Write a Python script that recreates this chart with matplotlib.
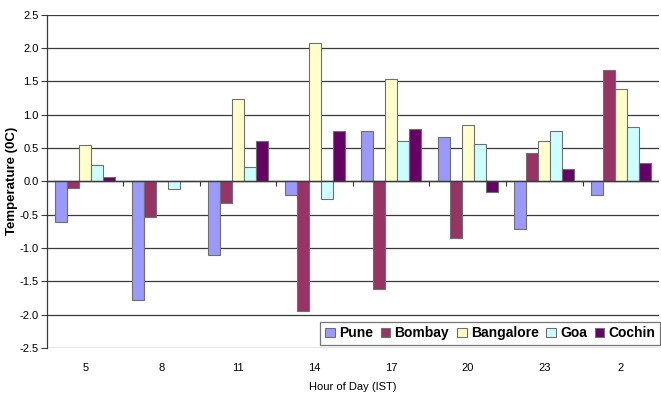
import numpy as np
import matplotlib
matplotlib.use("Agg")
import matplotlib.pyplot as plt
from matplotlib.patches import Patch

plt.rcParams["font.family"] = ["Liberation Sans", "DejaVu Sans"]

# ---- data ----
hours = ["5", "8", "11", "14", "17", "20", "23", "2"]
cities = ["Pune", "Bombay", "Bangalore", "Goa", "Cochin"]
pune      = [-0.61, -1.78, -1.10, -0.21,  0.76,  0.67, -0.72, -0.20]
bombay    = [-0.10, -0.54, -0.32, -1.95, -1.62, -0.85,  0.43,  1.67]
bangalore = [ 0.55,  0.00,  1.23,  2.08,  1.54,  0.84,  0.60,  1.38]
goa       = [ 0.25, -0.12,  0.21, -0.26,  0.61,  0.56,  0.75,  0.81]
cochin    = [ 0.06,  0.00,  0.60,  0.75,  0.79, -0.16,  0.18,  0.28]
series = [pune, bombay, bangalore, goa, cochin]
colors = ["#9999FF", "#993366", "#FFFFCC", "#CCFFFF", "#660066"]

fig = plt.figure(figsize=(6.61, 3.94), dpi=100)
ax = fig.add_axes([0.071, 0.117, 0.926, 0.846])

n = len(hours)
x = np.arange(n) + 0.5
w = 0.156
for i, (vals, c) in enumerate(zip(series, colors)):
    ax.bar(x + (i - 2) * w, vals, width=w, color=c, edgecolor="#707070",
           linewidth=0.8, label=cities[i], zorder=3)

ax.set_xlim(0, n)
ax.set_ylim(-2.5, 2.5)
ax.set_yticks(np.arange(-2.5, 2.51, 0.5))
ax.set_yticklabels([f"{v:.1f}" for v in np.arange(-2.5, 2.51, 0.5)], fontsize=8)
ax.yaxis.grid(True, color="#3a3a3a", linewidth=0.9, zorder=0)
ax.set_axisbelow(True)

# category axis crossing at zero, with ticks between categories
ax.axhline(0, color="#3a3a3a", linewidth=1, zorder=4)
ax.vlines(np.arange(1, n), -0.07, 0, color="#3a3a3a", linewidth=0.8, zorder=4)

ax.set_xticks(x)
ax.set_xticklabels(hours, fontsize=8)
ax.tick_params(axis="x", length=0, pad=11)
ax.tick_params(axis="y", length=4, width=0.8, color="#3a3a3a", pad=2)

for s in ["top", "right", "bottom"]:
    ax.spines[s].set_visible(False)
ax.spines["left"].set_color("#3a3a3a")
ax.spines["left"].set_linewidth(0.9)

ax.set_ylabel("Temperature (0C)", fontsize=9.5, fontweight="bold", labelpad=1)
ax.set_xlabel("Hour of Day (IST)", fontsize=8, labelpad=6)

handles = [Patch(facecolor=c, edgecolor="#707070", linewidth=0.8) for c in colors]
leg = ax.legend(handles, cities, loc="lower right", ncol=5,
                prop={"weight": "bold", "size": 10}, frameon=True, fancybox=False,
                edgecolor="#555555", handlelength=0.7, handleheight=0.7,
                handletextpad=0.3, columnspacing=0.55, borderpad=0.35,
                borderaxespad=0, bbox_to_anchor=(1.002, 0.008))
leg.get_frame().set_linewidth(0.9)
leg.set_zorder(5)

fig.savefig("out.png", dpi=100)
